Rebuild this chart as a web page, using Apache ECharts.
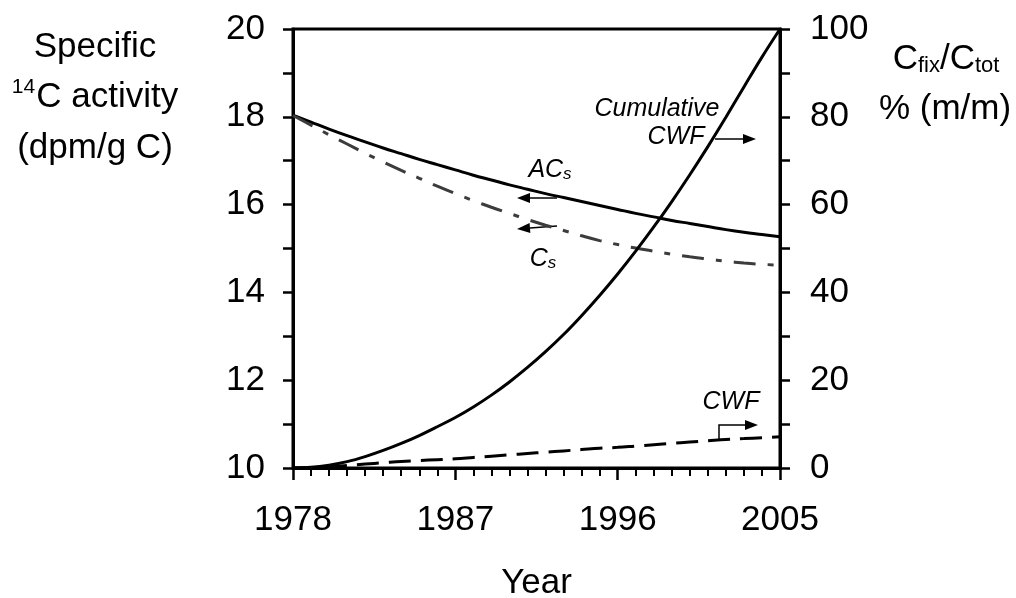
<!DOCTYPE html>
<html>
<head>
<meta charset="utf-8">
<script src="https://cdn.jsdelivr.net/npm/echarts@6/dist/echarts.min.js"></script>
<style>
  html, body { margin: 0; padding: 0; background: #fff; }
  #chart { width: 1016px; height: 598px; }
</style>
</head>
<body>
<div id="chart"></div>
<script>
/* 数据 */
const years = [1978, 1979, 1980, 1981, 1982, 1983, 1984, 1985, 1986, 1987,
  1988, 1989, 1990, 1991, 1992, 1993, 1994, 1995, 1996, 1997,
  1998, 1999, 2000, 2001, 2002, 2003, 2004, 2005];

// 左轴 (dpm/g C)
const acs = [18.04, 17.88, 17.72, 17.57, 17.43, 17.29, 17.16, 17.03, 16.91, 16.79,
  16.67, 16.56, 16.45, 16.35, 16.25, 16.16, 16.07, 15.98, 15.89, 15.80,
  15.72, 15.64, 15.57, 15.50, 15.43, 15.37, 15.32, 15.27];
const cs = [18.03, 17.81, 17.59, 17.38, 17.17, 16.97, 16.78, 16.60, 16.42, 16.25,
  16.09, 15.94, 15.80, 15.66, 15.53, 15.41, 15.29, 15.18, 15.09, 15.01,
  14.94, 14.87, 14.81, 14.76, 14.71, 14.67, 14.64, 14.62];

// 右轴 (%)
const cumCwf = [0, 0.15, 0.65, 1.45, 2.6, 4.0, 5.6, 7.4, 9.4, 11.5,
  13.9, 16.6, 19.6, 22.9, 26.5, 30.4, 34.7, 39.3, 44.2, 49.4,
  54.9, 60.7, 66.8, 73.2, 79.9, 86.8, 93.6, 100];
const cwf = [0, 0.1, 0.3, 0.6, 0.9, 1.2, 1.5, 1.7, 1.9, 2.1,
  2.4, 2.7, 3.0, 3.3, 3.6, 3.9, 4.2, 4.5, 4.7, 5.0,
  5.3, 5.6, 5.9, 6.2, 6.5, 6.7, 6.9, 7.1];

const FONT = 'Liberation Sans';

function pairs(arr) {
  return years.map(function (y, i) { return [y, arr[i]]; });
}

// 箭头
function arrow(pts) {
  const a = pts[pts.length - 2], b = pts[pts.length - 1];
  const ang = Math.atan2(b[1] - a[1], b[0] - a[0]);
  const L = 13, W = 5;
  const bx = b[0] - L * Math.cos(ang), by = b[1] - L * Math.sin(ang);
  const head = [
    [b[0], b[1]],
    [bx + W * Math.sin(ang), by - W * Math.cos(ang)],
    [bx - W * Math.sin(ang), by + W * Math.cos(ang)]
  ];
  return [
    { type: 'polyline', shape: { points: pts.slice(0, -1).concat([[bx, by]]) }, style: { stroke: '#000', lineWidth: 1.5, fill: null } },
    { type: 'polygon', shape: { points: head }, style: { fill: '#000' } }
  ];
}

function txt(x, y, text, opt) {
  return {
    type: 'text', x: x, y: y,
    style: Object.assign({
      text: text, fontFamily: FONT, fontSize: 35, fill: '#000',
      align: 'center', verticalAlign: 'middle'
    }, opt || {})
  };
}

const subRich = {
  m: { fontFamily: FONT, fontSize: 25, fontStyle: 'italic', lineHeight: 30, verticalAlign: 'bottom' },
  sub: { fontFamily: FONT, fontSize: 17, fontStyle: 'italic', lineHeight: 26, verticalAlign: 'bottom' }
};

const chart = echarts.init(document.getElementById('chart'));

const graphics = [
  // 左轴标题
  txt(95, 47, 'Specific'),
  txt(95, 97, '{sup|14}{m|C activity}', {
    rich: {
      sup: { fontFamily: FONT, fontSize: 21, verticalAlign: 'top', lineHeight: 40, padding: [0, 1, 18, 0] },
      m: { fontFamily: FONT, fontSize: 35, lineHeight: 40 }
    }
  }),
  txt(95, 148, '(dpm/g C)'),
  // 右轴标题
  txt(946, 57, '{m|C}{sub|fix}{m|/C}{sub|tot}', {
    rich: {
      m: { fontFamily: FONT, fontSize: 35, lineHeight: 40, verticalAlign: 'bottom' },
      sub: { fontFamily: FONT, fontSize: 22, lineHeight: 36, verticalAlign: 'bottom' }
    }
  }),
  txt(945, 109, '% (m/m)'),
  // 注释
  txt(657, 109, 'Cumulative', { fontSize: 25, fontStyle: 'italic' }),
  txt(676, 137, 'CWF', { fontSize: 25, fontStyle: 'italic' }),
  txt(550, 168, '{m|AC}{sub|s}', { rich: subRich }),
  txt(543, 257, '{m|C}{sub|s}', { rich: subRich }),
  txt(731, 402, 'CWF', { fontSize: 25, fontStyle: 'italic' })
]
  .concat(arrow([[715, 139], [756, 139]]))
  .concat(arrow([[557, 198], [517, 198]]))
  .concat(arrow([[557, 226], [517, 229]]))
  .concat(arrow([[719, 439], [719, 425], [758, 425]]));

chart.setOption({
  backgroundColor: '#fff',
  animation: false,
  textStyle: { fontFamily: FONT },
  grid: {
    left: 293, right: 236, top: 29, bottom: 130,
    outerBoundsMode: 'none', containLabel: false,
    show: true, borderColor: '#000', borderWidth: 3
  },
  xAxis: {
    type: 'value', min: 1978, max: 2005, interval: 9,
    name: 'Year', nameLocation: 'middle', nameGap: 98,
    nameTextStyle: { fontSize: 35, color: '#000' },
    axisLine: { lineStyle: { color: '#000', width: 3 } },
    axisTick: { inside: false, length: 12, lineStyle: { color: '#000', width: 2.5 } },
    minorTick: { show: true, splitNumber: 9, length: 8, lineStyle: { color: '#000', width: 2 } },
    axisLabel: { fontSize: 35, color: '#000', margin: 35, formatter: function (v) { return String(v); } },
    splitLine: { show: false }
  },
  yAxis: [
    {
      type: 'value', min: 10, max: 20, interval: 2, position: 'left',
      axisLine: { show: true, lineStyle: { color: '#000', width: 3 } },
      axisTick: { show: true, length: 10, lineStyle: { color: '#000', width: 2.5 } },
      minorTick: { show: true, splitNumber: 2, length: 10, lineStyle: { color: '#000', width: 2.5 } },
      axisLabel: { fontSize: 35, color: '#000', margin: 28 },
      splitLine: { show: false }
    },
    {
      type: 'value', min: 0, max: 100, interval: 20, position: 'right',
      axisLine: { show: true, lineStyle: { color: '#000', width: 3 } },
      axisTick: { show: true, length: 10, lineStyle: { color: '#000', width: 2.5 } },
      minorTick: { show: true, splitNumber: 2, length: 10, lineStyle: { color: '#000', width: 2.5 } },
      axisLabel: { fontSize: 35, color: '#000', margin: 30 },
      splitLine: { show: false }
    }
  ],
  series: [
    {
      name: 'ACs', type: 'line', yAxisIndex: 0, data: pairs(acs),
      smooth: 0.4, showSymbol: false,
      lineStyle: { color: '#000', width: 3 }
    },
    {
      name: 'Cs', type: 'line', yAxisIndex: 0, data: pairs(cs),
      smooth: 0.4, showSymbol: false,
      lineStyle: { color: '#3c3c3c', width: 3, type: [22, 12, 6, 12] }
    },
    {
      name: 'Cumulative CWF', type: 'line', yAxisIndex: 1, data: pairs(cumCwf),
      smooth: 0.4, showSymbol: false,
      lineStyle: { color: '#000', width: 3 }
    },
    {
      name: 'CWF', type: 'line', yAxisIndex: 1, data: pairs(cwf),
      smooth: 0.4, showSymbol: false,
      lineStyle: { color: '#000', width: 3, type: [22, 10] }
    }
  ],
  graphic: graphics
});
</script>
</body>
</html>
